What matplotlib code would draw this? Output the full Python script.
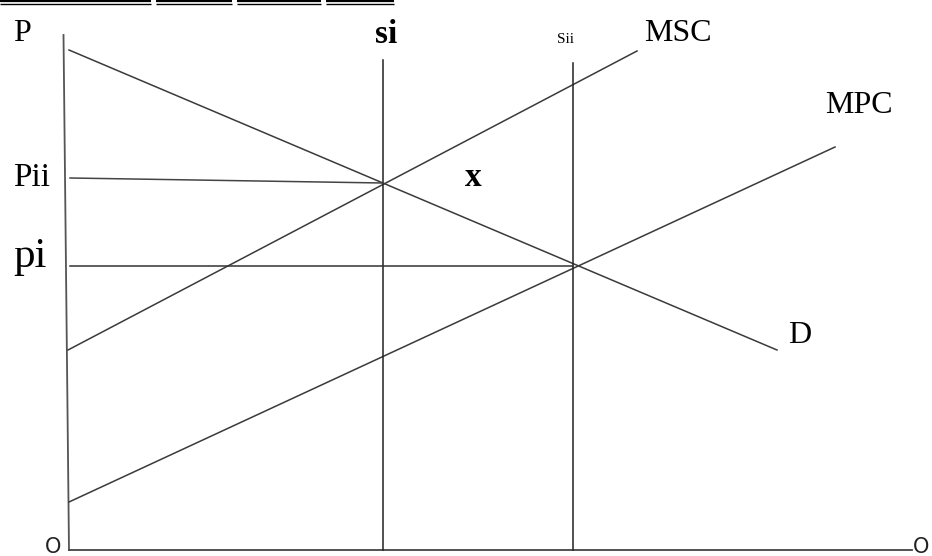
import numpy as np
import matplotlib.pyplot as plt

# curve end points, (Q, P) with the origin at the corner of the axes
d_q = [0, 708]
d_p = [500, 200]
msc_q = [-1, 568]
msc_p = [200, 499]
mpc_q = [0, 766]
mpc_p = [48, 403]

# supply quantities and price levels
si_q = 314
sii_q = 504
si_top = 490
sii_top = 487
pii_q = [1, 314]
pii_p = [372, 367]
pi_q = [1, 504]
pi_p = [284, 284]

# axes
yaxis_q = [-5.5, 0]
yaxis_p = [515, 0]
xaxis_q = [0, 843]
xaxis_p = [0, 0]

# double rules across the top
rule_starts = [-69, 87, 168, 257]
rule_ends = [82, 163, 252, 325]

serif = 'Liberation Serif'
lc = '#3a3a3a'

fig = plt.figure(figsize=(9.32, 5.56), dpi=100)
ax = fig.add_axes([0, 0, 1, 1])
ax.set_xlim(-69, 863)
ax.set_ylim(-6, 550)
ax.axis('off')

ax.plot(yaxis_q, yaxis_p, color='#555555', lw=1.3)
ax.plot(xaxis_q, xaxis_p, color='#444444', lw=1.3)

ax.plot(d_q, d_p, color=lc, lw=1.1)
ax.plot(msc_q, msc_p, color=lc, lw=1.1)
ax.plot(mpc_q, mpc_p, color=lc, lw=1.1)
ax.plot([si_q, si_q], [0, si_top], color='#222222', lw=1.1)
ax.plot([sii_q, sii_q], [0, sii_top], color='#222222', lw=1.1)
ax.plot(pii_q, pii_p, color='#444444', lw=1.1)
ax.plot(pi_q, pi_p, color='#333333', lw=1.1)

for a, b in zip(rule_starts, rule_ends):
    ax.plot([a, b], [549, 549], color='black', lw=1.6, clip_on=False,
            solid_capstyle='butt')
    ax.plot([a, b], [545.8, 545.8], color='black', lw=1.0, clip_on=False,
            solid_capstyle='butt')

# labels
ax.text(-56, 509, 'P', family=serif, fontsize=23, ha='left', va='baseline')
ax.text(317, 507, 'si', family=serif, fontsize=24, ha='center', va='baseline',
        fontweight='bold')
ax.text(496, 507, 'Sii', family=serif, fontsize=11, ha='center', va='baseline')
ax.text(575, 509, 'MSC', family=serif, fontsize=23, ha='left', va='baseline')
ax.text(756, 437, 'MPC', family=serif, fontsize=23, ha='left', va='baseline')
ax.text(-56, 364, 'Pii', family=serif, fontsize=24, ha='left', va='baseline')
ax.text(-56, 283, 'pi', family=serif, fontsize=31, ha='left', va='baseline')
ax.text(404, 364, 'x', family=serif, fontsize=24, ha='center', va='baseline',
        fontweight='bold')
ax.text(731, 207, 'D', family=serif, fontsize=23, ha='center', va='baseline')
ax.text(-16, 3, 'O', family='DejaVu Sans', fontsize=15, ha='center', va='center',
        color='#222222')
ax.text(852, 3, 'O', family='DejaVu Sans', fontsize=15, ha='center', va='center',
        color='#222222')

fig.savefig('out.png', dpi=100)
